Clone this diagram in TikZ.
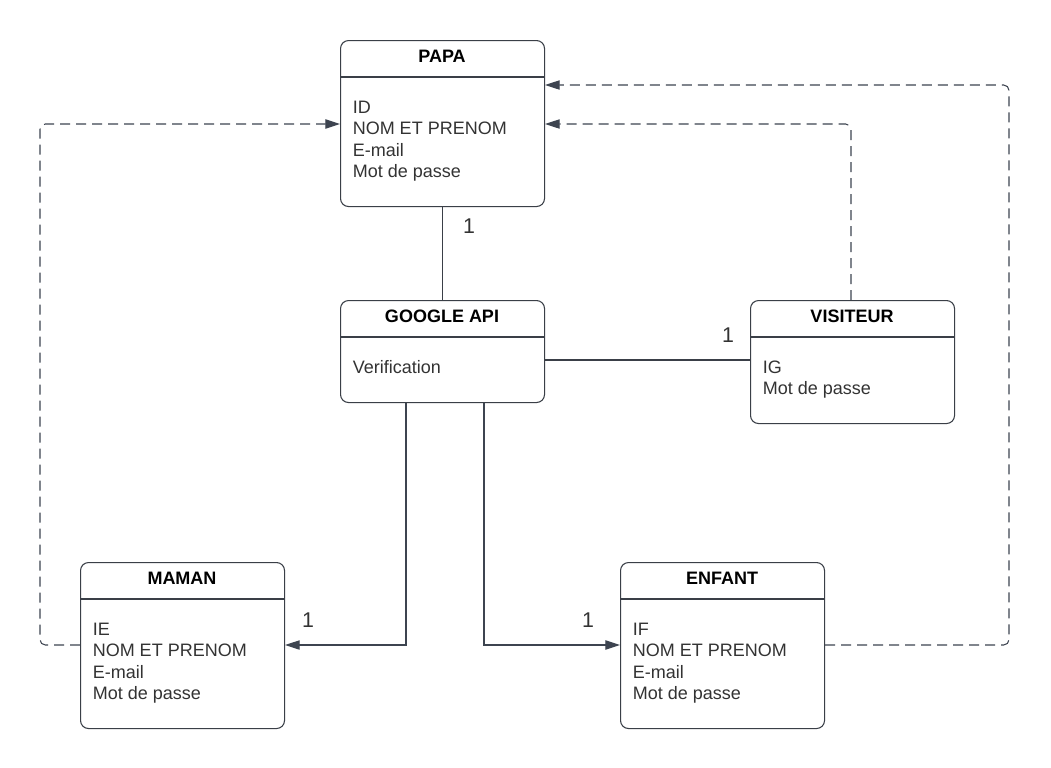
\documentclass[tikz,border=0pt]{standalone}
\usepackage{fontspec}
\setmainfont{Liberation Sans}
\usetikzlibrary{arrows.meta,calc}
\definecolor{linec}{HTML}{3A3F47}
\definecolor{headc}{HTML}{3D4450}
\definecolor{txtc}{HTML}{333333}
\tikzset{
  x=0.75pt, y=-0.75pt,
  entbox/.style={draw=linec, line width=0.8pt, rounded corners=6pt, inner sep=0pt, anchor=north west},
  enttitle/.style={anchor=base, inner sep=0pt, font=\fontsize{13.5}{16}\selectfont\bfseries, text=black},
  entline/.style={anchor=base west, inner sep=0pt, font=\fontsize{13.5}{16}\selectfont, text=txtc},
  conn/.style={draw=linec, line width=0.8pt},
  dconn/.style={draw=linec, line width=0.8pt, dash pattern=on 7.5pt off 4.5pt, rounded corners=4pt},
  tip/.style={-{Triangle[length=11pt,width=7pt]}, headc},
  card/.style={inner sep=0pt, font=\fontsize{16}{19}\selectfont, text=txtc},
}
% \entity{name}{x}{y}{w}{h}{title}{lines}
\newcommand{\entity}[7]{%
  \node[entbox, minimum width=#4*0.75pt, minimum height=#5*0.75pt] (#1) at (#2,#3) {};
  \draw[draw=linec, line width=0.8pt] (#2,#3+37) -- (#2+#4,#3+37);
  \node[enttitle] (#1-t) at (#2+#4/2,#3+22) {#6};
  \foreach \ln [count=\i] in {#7} {
    \node[entline] (#1-l\i) at (#2+12.5,{#3+73+(\i-1)*21.6}) {\ln};
  }
}
\begin{document}
\begin{tikzpicture}
\useasboundingbox (0,0) rectangle (1051,768);
\fill[white] (0,0) rectangle (1051,768);

\entity{papa}{340}{40}{204}{166}{PAPA}{ID,NOM ET PRENOM,E-mail,Mot de passe}
\entity{google}{340}{300}{204}{102}{GOOGLE API}{Verification}
\entity{visit}{750}{300}{204}{123}{VISITEUR}{IG,Mot de passe}
\entity{maman}{80}{562}{204}{166}{MAMAN}{IE,NOM ET PRENOM,E-mail,Mot de passe}
\entity{enfant}{620}{562}{204}{166}{ENFANT}{IF,NOM ET PRENOM,E-mail,Mot de passe}

% solid connectors
\draw[conn] (papa.south) -- (google.north);
\draw[conn] (google.east |- 0,360) -- (visit.west |- 0,360);
\draw[conn, tip] (google.south -| 406,0) |- (maman.east |- 0,645);
\draw[conn, tip] (google.south -| 484,0) |- (enfant.west |- 0,645);

% dashed connectors
\coordinate (lc1) at (40,645);
\coordinate (lc2) at (40,124);
\draw[dconn, tip] (maman.west |- 0,645) -- (lc1) -- (lc2) -- (papa.west |- 0,124);
\coordinate (vc) at (851,124);
\draw[dconn, tip] (visit.north -| 851,0) -- (vc) -- (papa.east |- 0,124);
\coordinate (ec1) at (1009,645);
\coordinate (ec2) at (1009,85);
\draw[dconn, tip] (enfant.east |- 0,645) -- (ec1) -- (ec2) -- (papa.east |- 0,85);

% cardinalities
\node[card] (c1) at (469,226) {1};
\node[card] (c2) at (728,335) {1};
\node[card] (c3) at (308,620) {1};
\node[card] (c4) at (588,620) {1};
\end{tikzpicture}
\end{document}
